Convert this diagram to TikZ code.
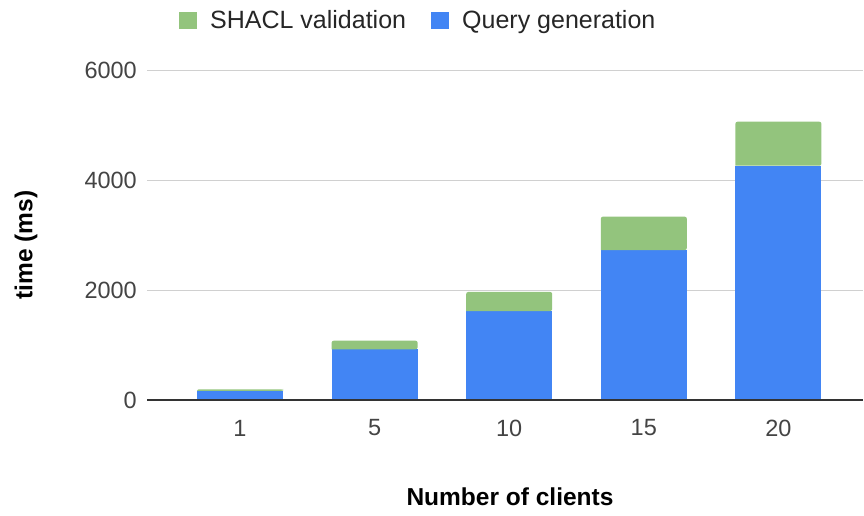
\documentclass[tikz,border=0pt]{standalone}
\usepackage{fontspec}
\setmainfont{Liberation Sans}
\definecolor{qblue}{HTML}{4285F4}
\definecolor{sgreen}{HTML}{93C47D}
\definecolor{gridgray}{HTML}{D0D0D0}
\definecolor{ticktext}{HTML}{444444}
\definecolor{axisline}{HTML}{333333}
\begin{document}
\begin{tikzpicture}[x=1pt,y=-1pt,
  ticklabel/.style={text=ticktext,font=\fontsize{23.5}{26}\selectfont,inner sep=0pt},
  axistitle/.style={text=black,font=\bfseries\fontsize{24.5}{28}\selectfont,inner sep=0pt},
  legendtext/.style={text=black!85,font=\fontsize{25}{28}\selectfont,inner sep=0pt,anchor=base west},
  gridline/.style={draw=gridgray,line width=1pt},
  querybar/.style={fill=qblue},
  shaclbar/.style={fill=sgreen}]
\useasboundingbox (0,0) rectangle (864,516);

% horizontal grid lines and value labels
\foreach \v/\name in {2000/g2,4000/g4,6000/g6}{
  \coordinate (\name l) at (147,{400-\v*0.055});
  \coordinate (\name r) at (863,{400-\v*0.055});
  \draw[gridline] (\name l) -- (\name r);
  \node[ticklabel,anchor=east] (\name t) at (137,{400-\v*0.055}) {\v};
}
\node[ticklabel,anchor=east] (g0t) at (137,400) {0};

% stacked bars: query generation below, SHACL validation on top
\foreach \i/\lab/\q/\t in {0/1/164/195, 1/5/922/1078, 2/10/1618/1964, 3/15/2727/3333, 4/20/4260/5060}{
  \pgfmathsetmacro{\cx}{240+134.6*\i}
  \fill[querybar] ({\cx-43},400) rectangle ({\cx+43},{400-\q*0.055});
  \fill[shaclbar,rounded corners=2pt] ({\cx-43},{400-\q*0.055}) -- ({\cx-43},{400-\t*0.055}) -- ({\cx+43},{400-\t*0.055}) -- ({\cx+43},{400-\q*0.055}) [sharp corners] -- cycle;
  \node[ticklabel] (x\i) at (\cx,428) {\lab};
}

% baseline
\coordinate (axl) at (147,400);
\coordinate (axr) at (863,400);
\draw[axisline,line width=1.2pt] (axl) -- (axr);

% axis titles
\node[axistitle,rotate=90] (ytitle) at (26,245) {time (ms)};
\node[axistitle] (xtitle) at (510,497) {Number of clients};

% legend
\fill[sgreen] (179,12) rectangle (197,29);
\node[legendtext] (lg1) at (210,29) {SHACL validation};
\fill[qblue] (431,12) rectangle (449,29);
\node[legendtext] (lg2) at (462,29) {Query generation};
\end{tikzpicture}
\end{document}
